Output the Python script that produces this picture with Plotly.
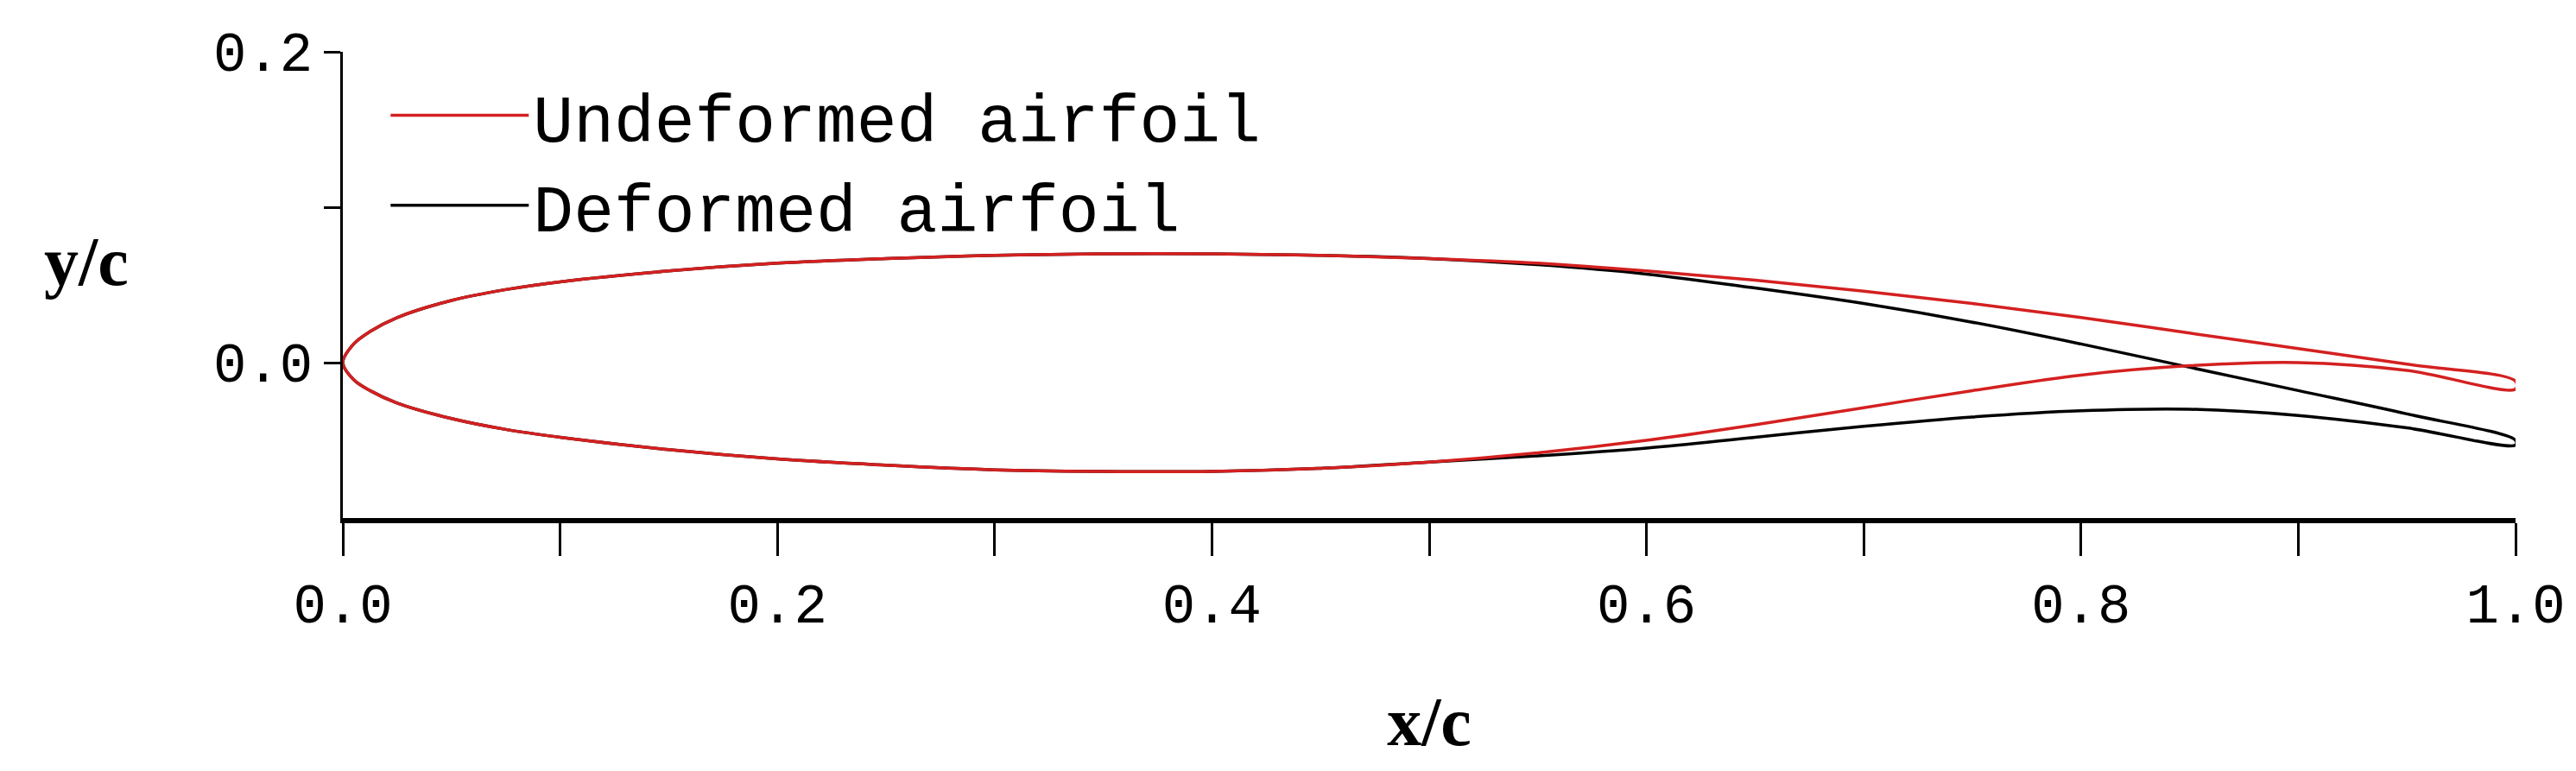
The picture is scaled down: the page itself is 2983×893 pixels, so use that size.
import plotly.graph_objects as go

# ------------ Airfoil coordinates ------------

x_pts = [0.0, 0.005, 0.0125, 0.025, 0.05, 0.075, 0.1, 0.15, 0.2, 0.25, 0.3, 0.35, 0.4,
         0.45, 0.5, 0.55, 0.6, 0.65, 0.7, 0.75, 0.8, 0.85, 0.9, 0.95, 1.0]

undef_upper = [0.0, 0.012, 0.020, 0.029, 0.040, 0.047, 0.052, 0.059, 0.064, 0.067, 0.069, 0.070, 0.070,
               0.069, 0.067, 0.064, 0.059, 0.053, 0.046, 0.038, 0.029, 0.019, 0.009, -0.001, -0.012]
undef_lower = [0.0, -0.011, -0.018, -0.026, -0.036, -0.043, -0.048, -0.056, -0.062, -0.066, -0.069, -0.070, -0.070,
               -0.068, -0.064, -0.058, -0.050, -0.040, -0.029, -0.018, -0.008, -0.002, 0.000, -0.005, -0.017]

def_upper = [0.0, 0.012, 0.020, 0.029, 0.040, 0.047, 0.052, 0.059, 0.064, 0.067, 0.069, 0.070, 0.070,
             0.069, 0.067, 0.063, 0.057, 0.048, 0.038, 0.026, 0.012, -0.003, -0.018, -0.033, -0.050]
def_lower = [0.0, -0.011, -0.018, -0.026, -0.036, -0.043, -0.048, -0.056, -0.062, -0.066, -0.069, -0.070, -0.070,
             -0.068, -0.064, -0.060, -0.055, -0.048, -0.041, -0.035, -0.031, -0.030, -0.034, -0.042, -0.053]

x_tick_vals = [0.0, 0.1, 0.2, 0.3, 0.4, 0.5, 0.6, 0.7, 0.8, 0.9, 1.0]
x_tick_text = ["0.0", "", "0.2", "", "0.4", "", "0.6", "", "0.8", "", "1.0"]
y_tick_vals = [0.0, 0.1, 0.2]
y_tick_text = ["0.0", "", "0.2"]

# ------------ Closed outlines: upper surface then lower surface back ------------

def loop(upper, lower):
    xs = x_pts + x_pts[::-1]
    ys = upper + lower[::-1]
    return xs, ys

fig = go.Figure()

dx, dy = loop(def_upper, def_lower)
ux, uy = loop(undef_upper, undef_lower)

fig.add_trace(go.Scatter(x=dx, y=dy, mode='lines', name='Deformed airfoil',
                         line=dict(color='black', width=3.5, shape='spline', smoothing=1.0),
                         legendrank=2))
fig.add_trace(go.Scatter(x=ux, y=uy, mode='lines', name='Undeformed airfoil',
                         line=dict(color='#d42020', width=3.5, shape='spline', smoothing=1.0),
                         legendrank=1))

tick_font = dict(family="Liberation Mono", size=64, color='black')

fig.update_layout(
    width=2983, height=893,
    margin=dict(l=389, r=78, t=52, b=301),
    plot_bgcolor='white', paper_bgcolor='white',
    showlegend=True,
    legend=dict(x=0.02, y=0.97, xanchor='left', yanchor='top', itemwidth=160,
                font=dict(family="Liberation Mono", size=78, color='black'),
                bgcolor='rgba(0,0,0,0)', tracegroupgap=0),
    xaxis=dict(range=[0, 1.0], tickvals=x_tick_vals, ticktext=x_tick_text,
               ticks='outside', ticklen=38, tickwidth=3, tickcolor='black',
               showline=True, linewidth=6, linecolor='black', showgrid=False, zeroline=False,
               tickfont=tick_font,
               title=dict(text='<b>x/c</b>', font=dict(family="Liberation Serif", size=80, color='black'),
                          standoff=70)),
    yaxis=dict(range=[-0.1, 0.2], tickvals=y_tick_vals, ticktext=y_tick_text,
               ticks='outside', ticklen=19, tickwidth=3, tickcolor='black',
               showline=True, linewidth=3, linecolor='black', showgrid=False, zeroline=False,
               tickfont=tick_font),
    annotations=[dict(text='<b>y/c</b>', xref='paper', yref='paper', x=-0.118, y=0.55,
                      xanchor='center', yanchor='middle', showarrow=False,
                      font=dict(family="Liberation Serif", size=80, color='black'))],
)

fig.write_html("out.html")
